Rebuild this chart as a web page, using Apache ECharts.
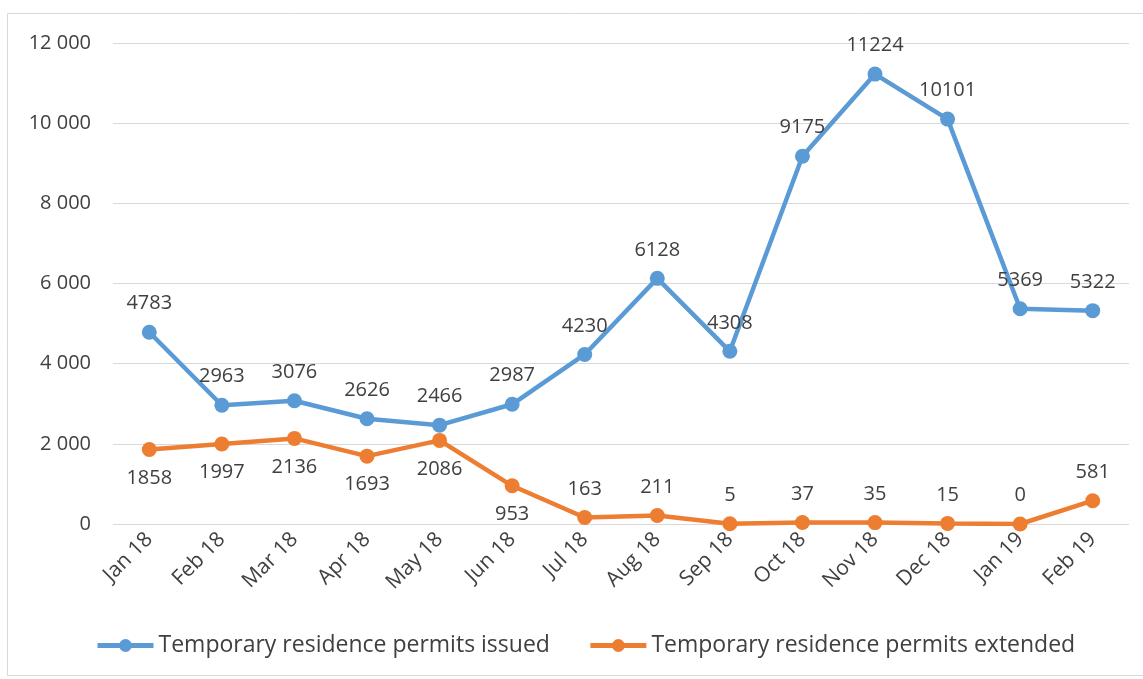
<!DOCTYPE html>
<html><head><meta charset="utf-8">
<script src="https://cdn.jsdelivr.net/npm/echarts@6/dist/echarts.min.js"></script>
<style>html,body{margin:0;padding:0;background:#fff}#c{width:1143px;height:679px}</style>
</head><body><div id="c"></div>
<script>
const categories = ['Jan 18','Feb 18','Mar 18','Apr 18','May 18','Jun 18','Jul 18','Aug 18','Sep 18','Oct 18','Nov 18','Dec 18','Jan 19','Feb 19'];
const issued = [4783,2963,3076,2626,2466,2987,4230,6128,4308,9175,11224,10101,5369,5322];
const extended = [1858,1997,2136,1693,2086,953,163,211,5,37,35,15,0,581];
const extendedLabelPos = ['bottom','bottom','bottom','bottom','bottom','bottom','top','top','top','top','top','top','top','top'];
const yTicks = [0,2000,4000,6000,8000,10000,12000];

const font = "'Open Sans', 'Noto Sans', sans-serif";
const chart = echarts.init(document.getElementById('c'), null, {renderer:'canvas'});
chart.setOption({
  animation:false,
  graphic:[{type:'rect',shape:{x:7.5,y:13.5,width:1140,height:662},style:{fill:'none',stroke:'#d9d9d9',lineWidth:1}}],
  grid:{left:113,right:14,top:43,bottom:155},
  legend:{
    bottom:17,left:90,itemGap:38,itemWidth:56,itemHeight:16,
    lineStyle:{width:5},
    textStyle:{fontFamily:font,fontSize:23,color:'#404040',padding:[0,0,0,0]},
    data:[
      {name:'Temporary residence permits issued',lineStyle:{width:5}},
      {name:'Temporary residence permits extended',lineStyle:{width:5}}
    ]
  },
  xAxis:{type:'category',data:categories,boundaryGap:true,
    axisLine:{show:false},axisTick:{show:false},
    axisLabel:{rotate:45,fontFamily:font,fontSize:21,color:'#404040',margin:12,interval:0}},
  yAxis:{type:'value',min:0,max:12000,interval:2000,
    axisLine:{show:false},axisTick:{show:false},
    splitLine:{lineStyle:{color:'#d9d9d9',width:1}},
    axisLabel:{fontFamily:font,fontSize:20,color:'#404040',margin:22,
      formatter:v=>String(v).replace(/\B(?=(\d{3})+(?!\d))/g,' ')}},
  series:[
    {name:'Temporary residence permits issued',type:'line',data:issued,
      symbol:'circle',symbolSize:15,color:'#5b9bd5',lineStyle:{width:4.5,color:'#5b9bd5'},itemStyle:{color:'#5b9bd5'},
      label:{show:true,position:'top',distance:11,fontFamily:font,fontSize:20,color:'#404040'}},
    {name:'Temporary residence permits extended',type:'line',
      data:extended.map((v,i)=>({value:v,label:{position:extendedLabelPos[i]}})),
      symbol:'circle',symbolSize:15,color:'#ed7d31',lineStyle:{width:4.5,color:'#ed7d31'},itemStyle:{color:'#ed7d31'},
      label:{show:true,distance:11,fontFamily:font,fontSize:20,color:'#404040'}}
  ]
});
</script></body></html>
